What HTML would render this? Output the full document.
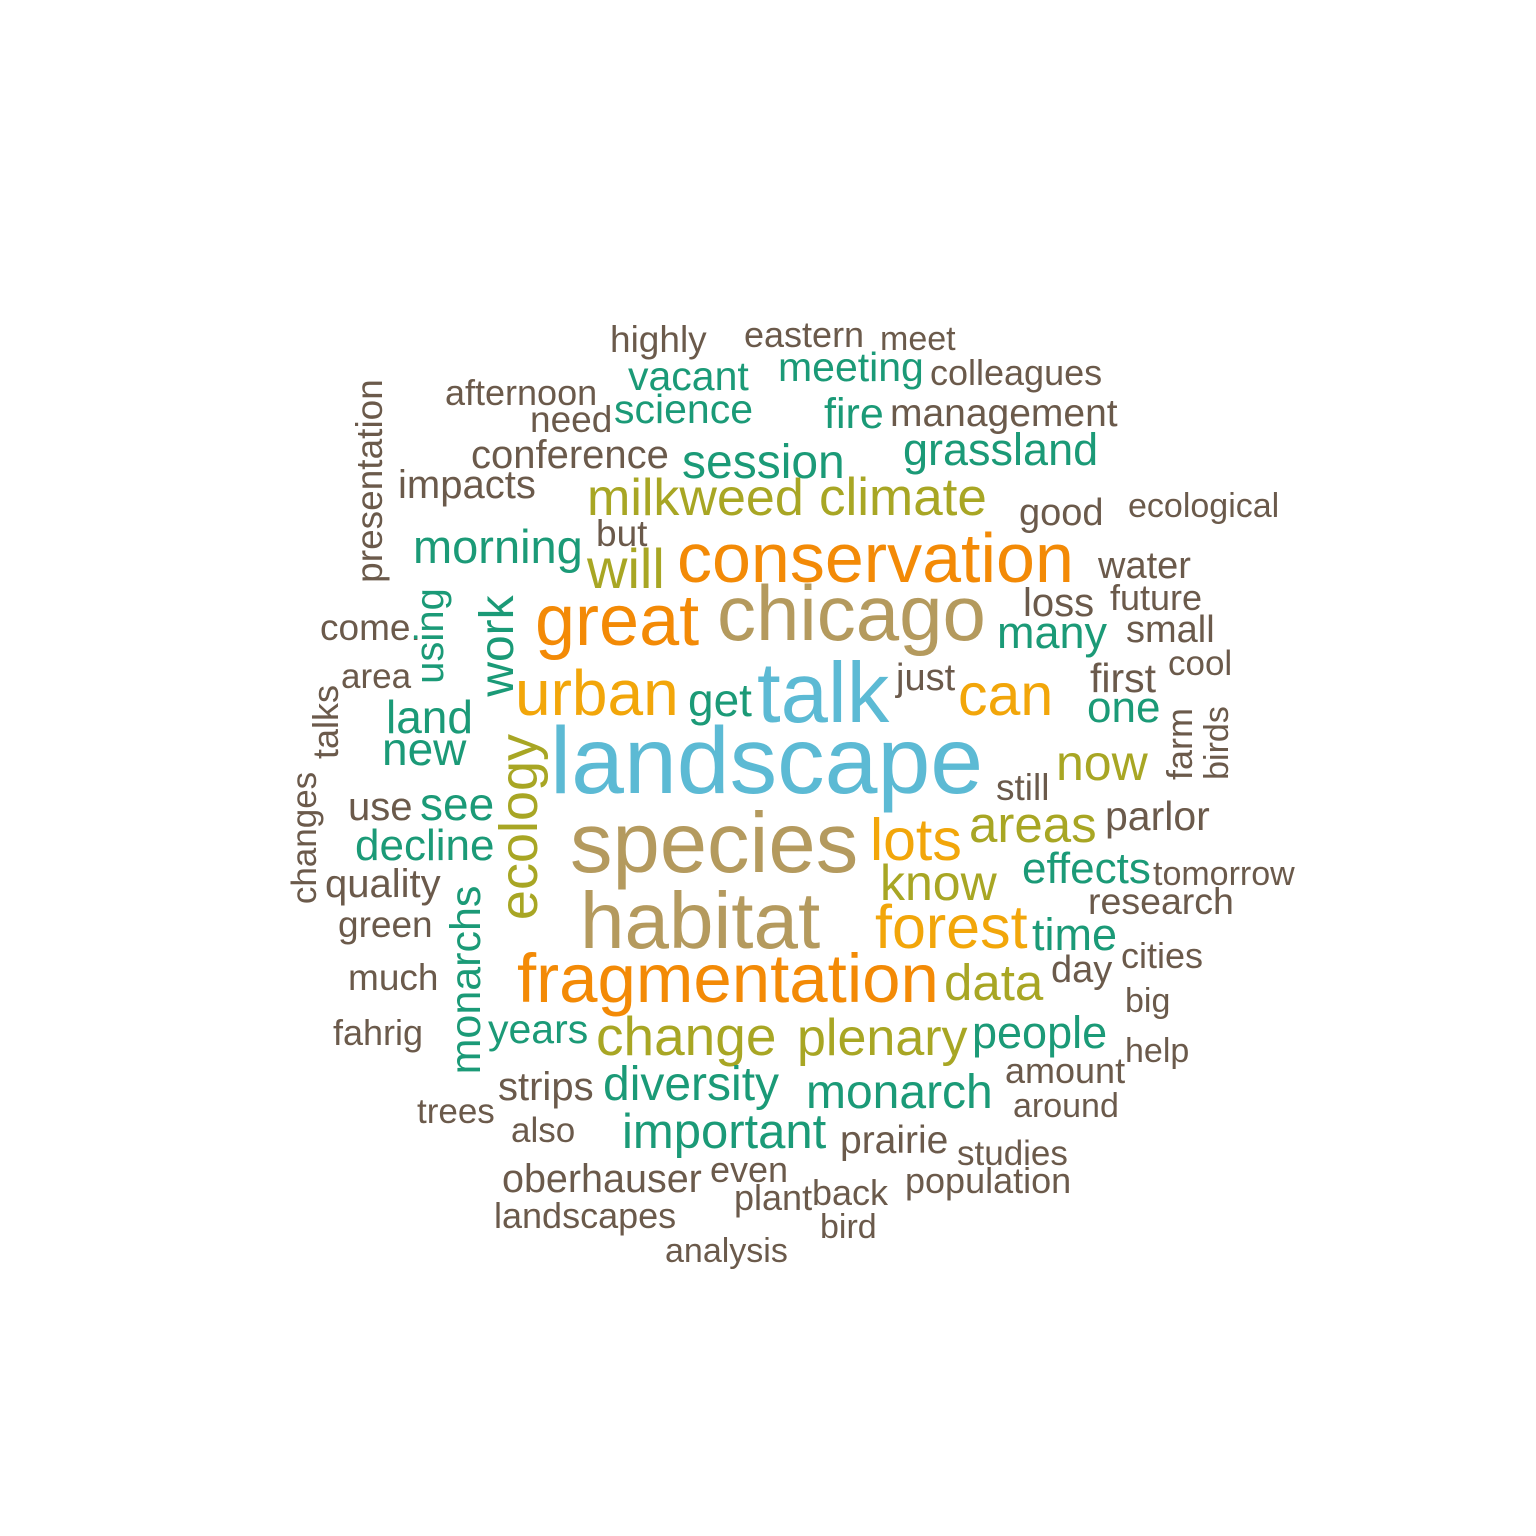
<!DOCTYPE html>
<html>
<head>
<meta charset="utf-8">
<style>
html,body{margin:0;padding:0;background:#fff;}
svg{display:block;}
text{font-family:"Liberation Sans",Arial,sans-serif;}
</style>
</head>
<body>
<svg id="cloud" width="1536" height="1536" viewBox="0 0 1536 1536" xmlns="http://www.w3.org/2000/svg">
<rect width="1536" height="1536" fill="#fff"/>
</svg>
<script>
// word cloud data
const words = ["highly","eastern","meet","vacant","meeting","colleagues","afternoon","presentation","need","science","fire","management","conference","session","grassland","impacts","milkweed","climate","good","ecological","but","morning","conservation","will","water","loss","future","great","chicago","come.","using","work","many","small","area","urban","talk","just","can","first","cool","talks","land","get","one","farm","birds","new","landscape","ecology","now","still","changes","use","see","areas","parlor","lots","species","decline","effects","tomorrow","quality","know","monarchs","research","habitat","forest","green","time","day","cities","fragmentation","data","much","big","fahrig","years","change","plenary","people","help","amount","strips","diversity","monarch","around","trees","also","important","prairie","studies","oberhauser","even","population","plant","back","landscapes","bird","analysis"];
// relative weight -> font size (px)
const sizes = [37,36,34,41,41,36,36,37,37,41,43,39,40,48,45,40,52,53,38,34,37,47,70,56,38,40,36,72,78,37,40,48,45,38,35,64,85,38,59,41,35,36,46,46,44,36,34,46,95,54,50,37,35,40,46,51,41,59,85,44,44,34,40,50,43,37.5,80,61,37,45,38,36,69,51,37,34,36,41,55,52,45,34,36,40,48,48,34,35,35,49,39,35,39.5,36,36,36,36,36,34,34];
// colour group
const groups = ["B","B","B","T","T","B","B","B","B","T","T","B","B","T","T","B","O","O","B","B","B","T","R","O","B","B","B","R","N","B","T","T","T","B","B","Y","L","B","Y","B","B","B","T","T","T","B","B","T","L","O","O","B","B","B","T","O","B","Y","N","T","T","B","B","O","T","B","N","Y","B","T","B","B","R","O","B","B","B","T","O","O","T","B","B","B","T","T","B","B","B","T","B","B","B","B","B","B","B","B","B","B"];
// layout (x, baseline/center y, rotation)
const layoutX = [610,744,880,628,778,930,445,382,530,614,824,890,471,682,903,398,587,819,1019,1128,596,413,677,587,1098,1023,1110,535,717,320,443,513,997,1126,341,515,757,896,958,1090,1168,338,386,688,1087,1192,1228,382,550,537,1056,996,316,348,420,969,1105,870,570,355,1022,1153,325,880,480,1088,580,875,338,1032,1051,1121,517,944,348,1125,333,488,596,797,972,1125,1005,498,603,806,1013,417,511,622,840,957,502,710,905,734,812,494,820,665];
const layoutY = [352,347,350,390,381,385,405,481,432,423,428,426,468,478,465,498,515,515,525,517,546,563,582,588,578,616,610,645,640,640,636,646,648,642,688,715,722,690,715,692,675,722,733,716,722,744,743,765,793,827,780,800,838,820,820,842,830,860,872,860,883,885,897,900,980,914,948,948,937,950,982,968,1002,1000,990,1012,1045,1043,1055,1055,1048,1062,1083,1100,1100,1108,1117,1123,1142,1148,1153,1165,1192,1182,1193,1210,1205,1228,1238,1262];
const vertical = ["presentation","using","work","talks","farm","birds","ecology","changes","monarchs"];
const palette = {B:"#6b5a4b",T:"#1b9a77",O:"#a8a624",R:"#f38a06",Y:"#f2a60a",N:"#b49a5e",L:"#5cbad4"};

const svg = document.getElementById('cloud');
const NS = "http://www.w3.org/2000/svg";
function fontSize(v){ return v; }
words.forEach((w,i)=>{
  const t = document.createElementNS(NS,'text');
  t.textContent = w;
  t.setAttribute('font-size', fontSize(sizes[i]));
  t.setAttribute('fill', palette[groups[i]]);
  const x = layoutX[i], y = layoutY[i];
  if (vertical.includes(w)) {
    t.setAttribute('text-anchor','middle');
    t.setAttribute('x', x); t.setAttribute('y', y);
    t.setAttribute('transform', 'rotate(-90 ' + x + ' ' + y + ')');
  } else {
    t.setAttribute('x', x); t.setAttribute('y', y);
  }
  
  
  svg.appendChild(t);
});
</script>
</body>
</html>
